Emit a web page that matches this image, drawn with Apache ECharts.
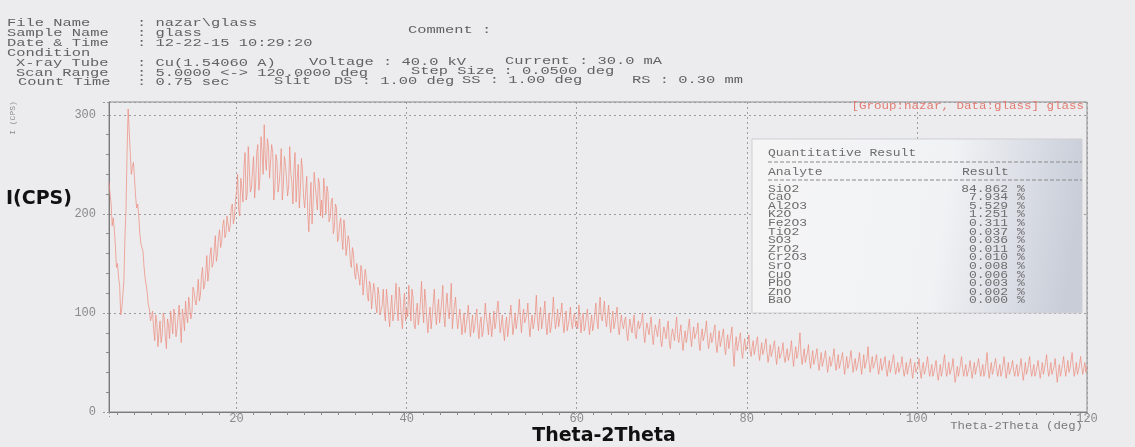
<!DOCTYPE html>
<html>
<head>
<meta charset="utf-8">
<title>nazar\glass</title>
<script src="https://cdn.jsdelivr.net/npm/echarts@6/dist/echarts.min.js"></script>
<style>
html, body { margin: 0; padding: 0; background: #ececef; }
#xrd { width: 1135px; height: 447px; }
</style>
</head>
<body>
<div id="xrd"></div>
<script>
// trace every 0.125 deg from 5.0 deg:
// countsA.. hold the readings on the quarter degrees, midA.. the ones half way between
var scanStart = 5.0;
var sampleStep = 0.125;

// I(CPS), 5.00 .. 19.75
var counts5to20 = [232, 210, 196, 168, 150, 128, 104, 132, 205, 306, 262, 248, 236, 206, 198, 170,
    162, 135, 120, 104, 96, 84, 98, 66, 92, 78, 95, 64, 88, 102, 79, 98,
    84, 108, 70, 96, 112, 90, 118, 100, 122, 108, 134, 118, 146, 128, 158, 142,
    166, 150, 178, 160, 184, 172, 194, 180, 200, 188, 210, 196];
var mid5to20 = [220, 188, 184, 146, 136, 98, 118, 176, 262, 284, 240, 252, 218, 210, 180,
    172, 146, 128, 108, 92, 102, 72, 90, 80, 70, 100, 76, 94, 74, 92,
    104, 76, 96, 88, 104, 82, 98, 116, 94, 126, 112, 120, 112, 138, 124,
    140, 132, 158, 146, 164, 152, 176, 166, 188, 176, 198, 182, 206, 190, 214];
// 20.00 .. 39.75
var counts20to40 = [222, 204, 236, 212, 262, 220, 246, 226, 258, 232, 270, 236, 262, 290, 244, 268,
    238, 262, 226, 254, 230, 266, 228, 250, 218, 268, 232, 246, 212, 250, 224, 244,
    206, 238, 182, 232, 210, 240, 204, 230, 214, 236, 200, 222, 196, 216, 186, 206,
    176, 196, 164, 184, 156, 172, 146, 160, 134, 152, 128, 142, 120, 136, 112, 128,
    106, 122, 100, 118, 96, 124, 92, 112, 86, 118, 98, 130, 92, 114, 84, 120];
var mid20to40 = [240, 198, 226, 248, 214, 268, 222, 244, 216, 262, 224, 278, 240, 256, 276, 236, 270, 214, 260, 222,
    244, 214, 258, 236, 228, 242, 210, 262, 234, 206, 256, 218, 222, 200, 212, 190, 242, 216, 236, 198,
    196, 222, 228, 192, 212, 180, 210, 172, 190, 176, 194, 158, 178, 152, 166, 140, 150, 136, 148, 118,
    144, 118, 132, 104, 130, 108, 126, 98, 108, 100, 124, 98, 104, 92, 112, 104, 126, 96, 108, 92];
// 40.00 .. 59.75
var counts40to60 = [104, 128, 92, 116, 84, 110, 98, 132, 90, 112, 80, 106, 96, 124, 88, 114,
    100, 128, 86, 120, 94, 130, 98, 116, 84, 104, 78, 100, 88, 108, 76, 98,
    86, 104, 74, 96, 82, 110, 88, 100, 76, 102, 90, 112, 80, 98, 72, 96,
    86, 108, 78, 100, 92, 114, 80, 104, 88, 110, 76, 98, 90, 118, 82, 106,
    92, 112, 78, 100, 86, 116, 84, 104, 94, 110, 80, 102, 88, 106, 84, 100];
var mid40to60 = [96, 110, 124, 88, 102, 88, 112, 104, 124, 92, 96, 84, 110, 100, 104, 90, 112, 96, 108, 102,
    110, 84, 108, 96, 94, 92, 90, 80, 96, 90, 88, 80, 96, 84, 90, 76, 94, 96, 78, 90,
    88, 84, 104, 94, 88, 82, 88, 76, 96, 94, 88, 84, 100, 94, 96, 90, 98, 88, 90, 84,
    100, 94, 98, 84, 100, 88, 92, 80, 98, 96, 92, 86, 100, 90, 94, 82, 94, 90, 96, 86];
// 60.00 .. 79.75
var counts60to80 = [92, 108, 80, 100, 86, 104, 78, 98, 88, 110, 84, 116, 92, 112, 86, 108,
    80, 102, 90, 106, 78, 98, 84, 96, 72, 94, 80, 98, 74, 92, 82, 100,
    70, 90, 78, 96, 68, 88, 76, 94, 66, 86, 74, 92, 64, 84, 72, 96,
    70, 88, 62, 82, 76, 94, 66, 86, 72, 90, 62, 84, 70, 92, 64, 80,
    74, 88, 60, 82, 68, 84, 58, 78, 66, 86, 46, 76, 64, 80, 54, 74];
var mid60to80 = [84, 96, 94, 82, 96, 90, 88, 82, 100, 92, 104, 96, 102, 94, 98, 90, 94, 84, 98, 86,
    90, 88, 92, 80, 84, 86, 90, 78, 86, 84, 92, 80, 82, 84, 88, 78, 80, 82, 86, 72,
    78, 80, 84, 72, 76, 78, 86, 76, 80, 72, 74, 70, 86, 76, 78, 74, 82, 70, 76, 72,
    82, 74, 72, 70, 82, 68, 72, 66, 78, 66, 70, 64, 78, 62, 66, 62, 74, 62, 66, 62];
// 80.00 .. 99.75
var counts80to100 = [66, 78, 56, 72, 60, 76, 52, 70, 62, 74, 50, 68, 58, 72, 48, 66,
    56, 70, 50, 64, 54, 72, 46, 66, 58, 80, 48, 64, 52, 68, 44, 62,
    50, 64, 42, 60, 48, 62, 40, 56, 50, 64, 42, 58, 46, 60, 38, 56,
    48, 62, 40, 54, 46, 60, 38, 58, 44, 66, 40, 56, 46, 58, 38, 54,
    44, 56, 36, 52, 46, 58, 38, 50, 42, 56, 36, 50, 44, 54, 34, 50];
var mid80to100 = [70, 62, 66, 58, 70, 60, 62, 58, 68, 60, 58, 56, 66, 58, 58, 54, 62, 56, 58, 52,
    62, 56, 58, 54, 68, 58, 56, 50, 60, 52, 54, 48, 58, 50, 52, 46, 56, 50, 48, 46,
    56, 50, 50, 44, 54, 48, 48, 44, 54, 50, 48, 42, 52, 48, 48, 44, 54, 50, 48, 44,
    52, 46, 46, 42, 50, 44, 44, 40, 52, 46, 44, 40, 48, 44, 42, 38, 48, 42, 44, 40];
// 100.00 .. 120.00
var counts100to120 = [40, 54, 34, 50, 42, 56, 36, 48, 40, 52, 32, 48, 42, 58, 36, 50,
    40, 54, 30, 46, 42, 56, 36, 48, 38, 52, 34, 50, 44, 54, 36, 48,
    40, 60, 34, 50, 42, 54, 36, 48, 40, 56, 34, 50, 42, 52, 36, 48,
    40, 54, 32, 50, 42, 56, 36, 48, 40, 52, 34, 50, 44, 58, 36, 50,
    40, 54, 30, 48, 42, 56, 36, 52, 44, 60, 36, 50, 42, 56, 38, 50, 46];
var mid100to120 = [46, 42, 44, 38, 48, 44, 42, 36, 46, 40, 40, 36, 50, 44, 42, 38, 46, 40, 38, 36,
    48, 44, 42, 36, 44, 42, 42, 38, 48, 44, 42, 36, 50, 44, 42, 38, 48, 44, 42, 36,
    48, 44, 42, 38, 46, 42, 42, 36, 46, 42, 40, 38, 48, 44, 42, 36, 46, 42, 42, 38,
    50, 44, 42, 38, 46, 42, 40, 36, 48, 44, 44, 40, 52, 46, 42, 38, 48, 46, 44, 40];

// quantitative result table
var analytes = ['SiO2', 'CaO', 'Al2O3', 'K2O', 'Fe2O3', 'TiO2', 'SO3', 'ZrO2', 'Cr2O3', 'SrO', 'CuO', 'PbO', 'ZnO', 'BaO'];
var results = ['84.862', '7.934', '5.529', '1.251', '0.311', '0.037', '0.036', '0.011', '0.010', '0.008', '0.006', '0.003', '0.002', '0.000'];

// put the half-way readings back between the quarter-degree ones
function weave(main, mid) {
    var out = [];
    main.forEach(function (v, i) {
        out.push(v);
        if (i < mid.length) out.push(mid[i]);
    });
    return out;
}

var counts = [].concat(
    weave(counts5to20, mid5to20),
    weave(counts20to40, mid20to40),
    weave(counts40to60, mid40to60),
    weave(counts60to80, mid60to80),
    weave(counts80to100, mid80to100),
    weave(counts100to120, mid100to120)
);
var trace = counts.map(function (c, i) {
    return [scanStart + i * sampleStep, c];
});

var dom = document.getElementById('xrd');
var xrdChart = echarts.init(dom);

// printed text is a stretched courier, so scale it sideways
function mono(x, y, text, size, sx, color, align) {
    return {
        type: 'text', x: x, y: y, scaleX: sx, z: 100,
        style: {
            text: text, fontFamily: 'Liberation Mono', fontSize: size,
            fill: color || '#626262', align: align || 'left', verticalAlign: 'middle'
        }
    };
}

var gfx = [];
// header block
gfx.push(mono(7, 23, 'File Name', 11, 1.4));
gfx.push(mono(137, 23, ': nazar\\glass', 11, 1.4));
gfx.push(mono(7, 33, 'Sample Name', 11, 1.4));
gfx.push(mono(137, 33, ': glass', 11, 1.4));
gfx.push(mono(408, 30, 'Comment :', 11, 1.4));
gfx.push(mono(7, 43, 'Date & Time', 11, 1.4));
gfx.push(mono(137, 43, ': 12-22-15 10:29:20', 11, 1.4));
gfx.push(mono(7, 53, 'Condition', 11, 1.4));
gfx.push(mono(16, 63, 'X-ray Tube', 11, 1.4));
gfx.push(mono(137, 63, ': Cu(1.54060 A)', 11, 1.4));
gfx.push(mono(309, 62, 'Voltage : 40.0 kV', 11, 1.4));
gfx.push(mono(505, 61, 'Current : 30.0 mA', 11, 1.4));
gfx.push(mono(16, 73, 'Scan Range', 11, 1.4));
gfx.push(mono(137, 73, ': 5.0000 <-> 120.0000 deg', 11, 1.4));
gfx.push(mono(411, 71, 'Step Size : 0.0500 deg', 11, 1.4));
gfx.push(mono(18, 82, 'Count Time', 11, 1.4));
gfx.push(mono(137, 82, ': 0.75 sec', 11, 1.4));
gfx.push(mono(274, 81, 'Slit', 11, 1.4));
gfx.push(mono(334, 81, 'DS : 1.00 deg', 11, 1.4));
gfx.push(mono(462, 80, 'SS : 1.00 deg', 11, 1.4));
gfx.push(mono(632, 80, 'RS : 0.30 mm', 11, 1.4));

// plot captions
gfx.push(mono(1084, 106, '[Group:nazar, Data:glass] glass', 10, 1.25, '#e37b70', 'right'));
gfx.push(mono(1083, 426, 'Theta-2Theta (deg)', 10, 1.23, '#7a7a7a', 'right'));
gfx.push({
    type: 'text', x: 13, y: 118, rotation: Math.PI / 2, z: 100,
    style: { text: 'I (CPS)', fontFamily: 'Liberation Mono', fontSize: 8, fill: '#8a8a8a', align: 'center', verticalAlign: 'middle' }
});
gfx.push({
    type: 'text', x: 6, y: 199, z: 100,
    style: { text: 'I(CPS)', fontFamily: 'DejaVu Sans', fontWeight: 'bold', fontSize: 19, fill: '#111', align: 'left', verticalAlign: 'middle' }
});
gfx.push({
    type: 'text', x: 604, y: 436, z: 100,
    style: { text: 'Theta-2Theta', fontFamily: 'DejaVu Sans', fontWeight: 'bold', fontSize: 19, fill: '#111', align: 'center', verticalAlign: 'middle' }
});

// pasted "Quantitative Result" slip
gfx.push({
    type: 'rect', z: 90,
    shape: { x: 752, y: 139, width: 330, height: 174 },
    style: {
        fill: new echarts.graphic.LinearGradient(0, 0, 1, 0.3, [
            { offset: 0, color: '#f5f5f6' },
            { offset: 0.6, color: '#f1f2f4' },
            { offset: 0.8, color: '#dde0e7' },
            { offset: 1, color: '#c8cdd8' }
        ]),
        stroke: '#cfcfd2', lineWidth: 1
    }
});
gfx.push(mono(768, 153, 'Quantitative Result', 10, 1.3, '#6e6e6e'));
gfx.push({ type: 'line', z: 100, shape: { x1: 768, y1: 162, x2: 1082, y2: 162 }, style: { stroke: '#8a8a8a', lineDash: [4, 2], lineWidth: 1 } });
gfx.push(mono(768, 172, 'Analyte', 10, 1.3, '#6e6e6e'));
gfx.push(mono(962, 172, 'Result', 10, 1.3, '#6e6e6e'));
gfx.push({ type: 'line', z: 100, shape: { x1: 768, y1: 180, x2: 1082, y2: 180 }, style: { stroke: '#8a8a8a', lineDash: [4, 2], lineWidth: 1 } });
analytes.forEach(function (name, i) {
    var y = 189 + i * 8.6;
    gfx.push(mono(768, y, name, 10, 1.3, '#6e6e6e'));
    gfx.push(mono(1008, y, results[i], 10, 1.3, '#6e6e6e', 'right'));
    gfx.push(mono(1017, y, '%', 10, 1.3, '#6e6e6e'));
});

var xrdOption = {
    animation: false,
    backgroundColor: '#ececef',
    grid: {
        left: 109, right: 48, top: 102, bottom: 35,
        show: true, borderColor: '#8a8a8a', borderWidth: 1
    },
    xAxis: {
        type: 'value',
        min: 5,
        max: 120,
        axisLine: { lineStyle: { color: '#7a7a7a' } },
        axisTick: { show: true, length: 5, lineStyle: { color: '#9a9a9a', type: [2, 2] } },
        minorTick: { show: true, splitNumber: 10, length: 3, lineStyle: { color: '#8a8a8a' } },
        splitLine: { show: true, lineStyle: { color: '#9c9c9c', type: [2, 3] } },
        axisLabel: { showMinLabel: false, color: '#8a8a8a', fontFamily: 'Liberation Mono', fontSize: 12, margin: 1 }
    },
    yAxis: {
        type: 'value',
        min: 0,
        max: 313,
        interval: 100,
        axisLine: { show: true, lineStyle: { color: '#7a7a7a' } },
        axisTick: { show: true, length: 8, lineStyle: { color: '#9a9a9a', type: [2, 2] } },
        minorTick: { show: true, splitNumber: 5, length: 3, lineStyle: { color: '#8a8a8a' } },
        splitLine: { show: true, lineStyle: { color: '#9c9c9c', type: [2, 3] } },
        axisLabel: { showMaxLabel: false, color: '#8a8a8a', fontFamily: 'Liberation Mono', fontSize: 12, margin: 13 }
    },
    graphic: gfx,
    series: [
        {
            name: 'glass',
            type: 'line',
            data: trace,
            showSymbol: false,
            sampling: null,
            lineStyle: { color: '#ec8c7c', width: 0.8, opacity: 0.9 }
        }
    ]
};
xrdChart.setOption(xrdOption);
</script>
</body>
</html>
